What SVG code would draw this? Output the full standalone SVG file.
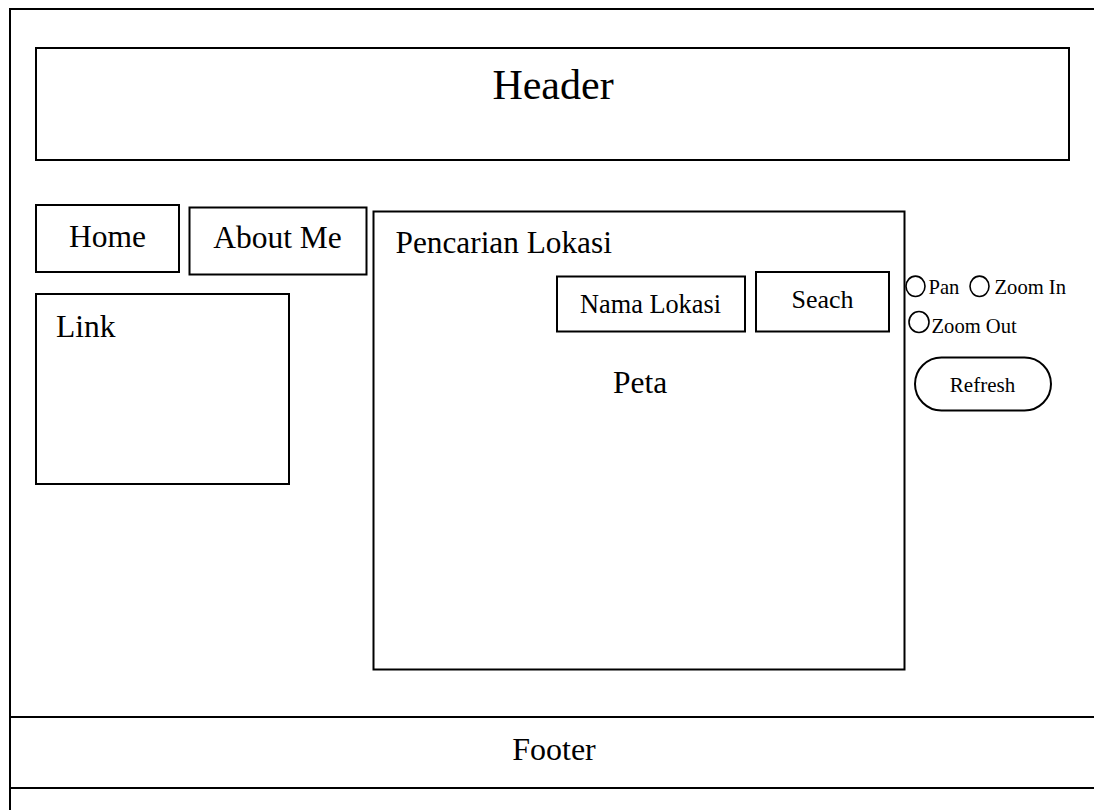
<svg xmlns="http://www.w3.org/2000/svg" width="1094" height="810" viewBox="0 0 1094 810">
  <style>
    .box { fill: #fff; stroke: #000; stroke-width: 2; }
    .line { stroke: #000; stroke-width: 2; fill: none; }
    .t { font-family: "Liberation Serif", "Times New Roman", serif; fill: #000; }
    .opt { fill: #fff; stroke: #000; stroke-width: 1.6; }
  </style>
  <rect width="1094" height="810" fill="#fff"/>

  <!-- page frame -->
  <g id="frame">
    <path class="line" d="M10 810 V9 H1094"/>
  </g>

  <g id="header">
    <rect class="box" x="36" y="48" width="1033" height="112"/>
    <text class="t" x="553" y="99" font-size="42" text-anchor="middle">Header</text>
  </g>

  <g id="home">
    <rect class="box" x="36" y="205" width="143" height="67"/>
    <text class="t" x="107.5" y="246.5" font-size="31.5" text-anchor="middle">Home</text>
  </g>

  <g id="about">
    <rect class="box" x="189.5" y="207.5" width="177" height="67"/>
    <text class="t" x="277.5" y="247.5" font-size="31.5" text-anchor="middle">About Me</text>
  </g>

  <g id="link">
    <rect class="box" x="36" y="294" width="253" height="190"/>
    <text class="t" x="56" y="337" font-size="31.5">Link</text>
  </g>

  <g id="map-panel">
    <rect class="box" x="373.5" y="211.5" width="531" height="458"/>
    <text class="t" x="395.5" y="253" font-size="31.3">Pencarian Lokasi</text>
    <text class="t" x="640" y="393" font-size="31.5" text-anchor="middle">Peta</text>
  </g>

  <g id="search-field">
    <rect class="box" x="557" y="276.5" width="188" height="55"/>
    <text class="t" x="650.5" y="313" font-size="26.3" text-anchor="middle">Nama Lokasi</text>
  </g>

  <g id="search-button">
    <rect class="box" x="756" y="272" width="133" height="59.5"/>
    <text class="t" x="822.5" y="307.5" font-size="26" text-anchor="middle">Seach</text>
  </g>

  <g id="map-tools">
    <ellipse class="opt" cx="915.5" cy="286.3" rx="9.5" ry="10.2"/>
    <text class="t" x="928.5" y="294.3" font-size="20.6">Pan</text>
    <ellipse class="opt" cx="979.5" cy="286.3" rx="9.5" ry="10.2"/>
    <text class="t" x="994.5" y="294.3" font-size="20.6">Zoom In</text>
    <ellipse class="opt" cx="919" cy="322" rx="10" ry="10.5"/>
    <text class="t" x="931.5" y="333.3" font-size="20.6">Zoom Out</text>
  </g>

  <g id="refresh">
    <rect class="box" x="915" y="357.5" width="136" height="53" rx="26.5" ry="26.5"/>
    <text class="t" x="982.5" y="392" font-size="21" text-anchor="middle">Refresh</text>
  </g>

  <g id="footer">
    <path class="line" d="M10 717 H1094 M10 788 H1094"/>
    <text class="t" x="554" y="759.5" font-size="32" text-anchor="middle">Footer</text>
  </g>
</svg>
